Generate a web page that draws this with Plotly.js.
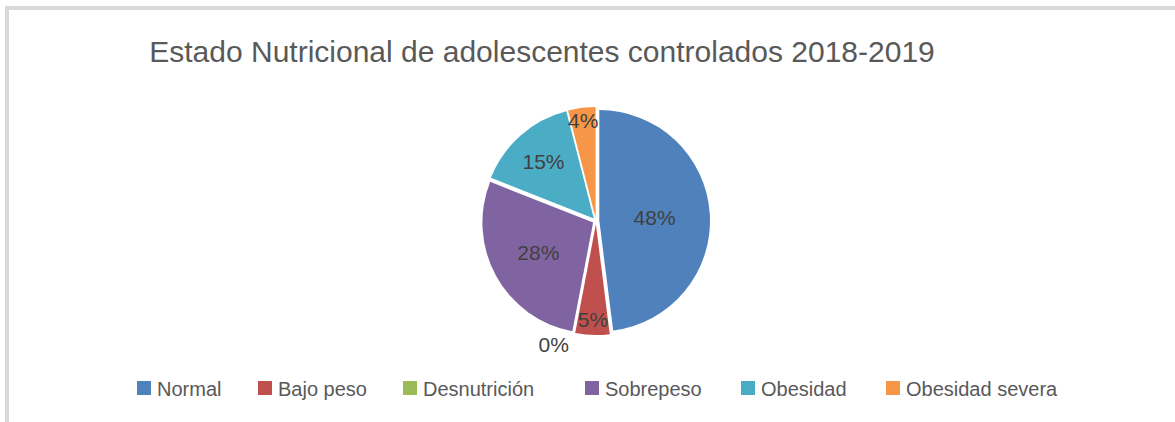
<!DOCTYPE html>
<html>
<head>
<meta charset="utf-8">
<script src="https://cdn.plot.ly/plotly-3.0.1.min.js"></script>
<style>
  html, body { margin: 0; padding: 0; background: #ffffff; }
  #wrap { position: relative; width: 1175px; height: 422px; overflow: hidden; }
  #frame { position: absolute; left: 5px; top: 6px; width: 1175px; height: 422px;
           border-top: 4px solid #d9d9d9; border-left: 4px solid #d9d9d9; box-sizing: border-box; }
  #chart { position: absolute; left: 0; top: 0; width: 1175px; height: 422px; }
  #chart .legend .scrollbox { clip-path: none !important; }
</style>
</head>
<body>
<div id="wrap">
  <div id="frame"></div>
  <div id="chart"></div>
</div>
<script>
const chartTitle = "Estado Nutricional de adolescentes controlados 2018-2019";
const categories = ["Normal", "Bajo peso", "Desnutrición", "Sobrepeso", "Obesidad", "Obesidad severa"];
const percentValues = [48, 5, 0, 28, 15, 4];
const sliceColors = ["#4F81BD", "#C0504D", "#9BBB59", "#8064A2", "#4BACC6", "#F79646"];

// legend layout: left edge (px) of each legend swatch, as in the reference
const legendSwatchLeft = [137, 258, 403, 585, 741, 886];
const legendTextGap = 20;   // swatch left edge -> text start
const legendSwatchHalf = 7; // swatch half size

const W = 1175, H = 422;
const cx = 596, cy = 221, half = 114;

const trace = {
  type: "pie",
  labels: categories,
  values: percentValues,
  sort: false,
  direction: "clockwise",
  rotation: 0,
  marker: { colors: sliceColors, line: { color: "#ffffff", width: 0 } },
  pull: categories.map(() => 0.03),
  textinfo: "percent",
  texttemplate: "%{percent:.0%}",
  textposition: percentValues.map(v => (v === 0 ? "outside" : "inside")),
  insidetextorientation: "horizontal",
  textfont: { family: "Liberation Sans, Arial, sans-serif", size: 21, color: "#404040" },
  outsidetextfont: { family: "Liberation Sans, Arial, sans-serif", size: 21, color: "#404040" },
  automargin: false,
  domain: { x: [(cx - half) / W, (cx + half) / W], y: [1 - (cy + half) / H, 1 - (cy - half) / H] },
  hoverinfo: "label+percent"
};

const layout = {
  width: W, height: H,
  margin: { l: 0, r: 0, t: 0, b: 0 },
  paper_bgcolor: "rgba(0,0,0,0)",
  plot_bgcolor: "rgba(0,0,0,0)",
  uniformtext: { mode: "show", minsize: 21 },
  title: {
    text: chartTitle,
    font: { family: "Liberation Sans, Arial, sans-serif", size: 30, color: "#595959" },
    x: 542 / W, xanchor: "center", xref: "container",
    y: 1 - 51 / H, yanchor: "middle", yref: "container"
  },
  showlegend: true,
  legend: {
    orientation: "h",
    x: 123 / W, xanchor: "left",
    y: 1 - 388 / H, yanchor: "middle",
    font: { family: "Liberation Sans, Arial, sans-serif", size: 20, color: "#595959" },
    entrywidth: 105, entrywidthmode: "pixels",
    bgcolor: "rgba(0,0,0,0)"
  }
};

Plotly.newPlot("chart", [trace], layout, { displayModeBar: false, staticPlot: true }).then(function () {
  const items = document.querySelectorAll("#chart .legend .traces");
  items.forEach(function (g, i) {
    if (i >= legendSwatchLeft.length) return;
    const sym = g.querySelector(".legendpoints path");
    if (sym) {
      const s = legendSwatchHalf;
      sym.setAttribute("d", "M" + s + "," + s + "H-" + s + "V-" + s + "H" + s + "Z");
    }
    const rect = (sym || g).getBoundingClientRect();
    const delta = legendSwatchLeft[i] - rect.left;
    const tf = g.getAttribute("transform") || "translate(0,0)";
    const m = tf.match(/translate\(\s*([-\d.e]+)[ ,]+([-\d.e]+)\s*\)/);
    if (m) {
      g.setAttribute("transform", "translate(" + (parseFloat(m[1]) + delta) + "," + m[2] + ")");
    }
    const txt = g.querySelector("text.legendtext");
    if (txt) {
      const tr = txt.getBoundingClientRect();
      const want = legendSwatchLeft[i] + legendTextGap;
      const x0 = parseFloat(txt.getAttribute("x") || "0");
      txt.setAttribute("x", x0 + (want - tr.left));
    }
  });
});
</script>
</body>
</html>
